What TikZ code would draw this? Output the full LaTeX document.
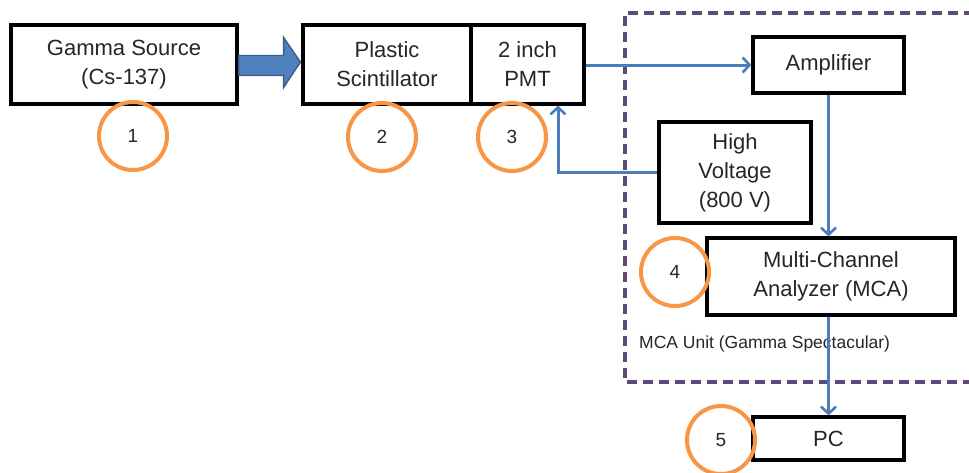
\documentclass[tikz,border=0pt]{standalone}
\usepackage{fontspec}
\setmainfont{Liberation Sans}
\usetikzlibrary{arrows.meta,calc}
\definecolor{lineblue}{HTML}{4A7EBB}
\definecolor{fillblue}{HTML}{4F81BD}
\definecolor{edgeblue}{HTML}{385D8A}
\definecolor{ringorange}{HTML}{F79646}
\definecolor{unitpurple}{HTML}{5F497A}
\begin{document}
\begin{tikzpicture}[x=1pt,y=-1pt,
  blockbox/.style={draw=black,line width=3.2pt,fill=white,align=center,inner sep=0pt,
    font=\fontsize{22}{29}\selectfont,text=black!85},
  ring/.style={circle,draw=ringorange,line width=4pt,minimum size=68pt,inner sep=0pt,
    font=\fontsize{19}{22}\selectfont,text=black!85},
  link/.style={draw=lineblue,line width=3pt},
  linkarrow/.style={link,-{Straight Barb[length=7pt,width=15pt,line width=2.6pt]}}
]
\useasboundingbox (0,0) rectangle (969,472);
\begin{scope}
\clip (0,0) rectangle (969,472);
% dashed MCA unit box
\draw[unitpurple,line width=3.8pt,dash pattern=on 10pt off 6pt] (990,13) -- (625,13) -- (625,382) -- (990,382);
\end{scope}

% boxes
\node[blockbox,minimum width=226pt,minimum height=79pt] (gamma) at (124,64.5) {Gamma Source\\(Cs-137)};
\node[blockbox,minimum width=168pt,minimum height=79pt] (plastic) at (387,64.5) {Plastic\\Scintillator};
\node[blockbox,minimum width=113pt,minimum height=79pt] (pmt) at (527.5,64.5) {2 inch\\PMT};
\node[blockbox,minimum width=151pt,minimum height=56pt] (amp) at (828.5,65) {Amplifier};
\node[blockbox,minimum width=152pt,minimum height=101pt] (hv) at (735,172.5) {High\\Voltage\\(800 V)};
\node[blockbox,minimum width=248pt,minimum height=77pt] (mca) at (831,276.5) {Multi-Channel\\Analyzer (MCA)};
\node[blockbox,minimum width=151pt,minimum height=43pt] (pc) at (828.5,438.5) {PC};

% label of the unit
\node[anchor=west,inner sep=0pt,font=\fontsize{17.5}{20}\selectfont,text=black!85] (unitlabel) at (639,344) {MCA Unit (Gamma Spectacular)};

% numbered rings
\node[ring] (r1) at (133,136) {1};
\node[ring] (r2) at (382,137) {2};
\node[ring] (r3) at (512,137) {3};
\node[ring] (r4) at (675,272) {4};
\node[ring] (r5) at (721,440) {5};

% big arrow source -> scintillator
\filldraw[fill=fillblue,draw=edgeblue,line width=1.4pt,line join=miter]
  ($(gamma.east)+(0,-9)$) -- ($(gamma.east)+(45,-9)$) -- ($(gamma.east)+(45,-27)$)
  -- ($(plastic.west)+(-1,-2.5)$) -- ($(gamma.east)+(45,23)$) -- ($(gamma.east)+(45,11)$)
  -- ($(gamma.east)+(0,11)$) -- cycle;

% connectors
\coordinate (hvx) at (558,0);
\draw[linkarrow] (pmt.east |- amp.west) -- (amp.west);
\draw[linkarrow] (hv.west) -| (pmt.south -| hvx);
\draw[linkarrow] (amp.south) -- (amp.south |- mca.north);
\draw[linkarrow] (pc.north |- mca.south) -- (pc.north);
\end{tikzpicture}
\end{document}
